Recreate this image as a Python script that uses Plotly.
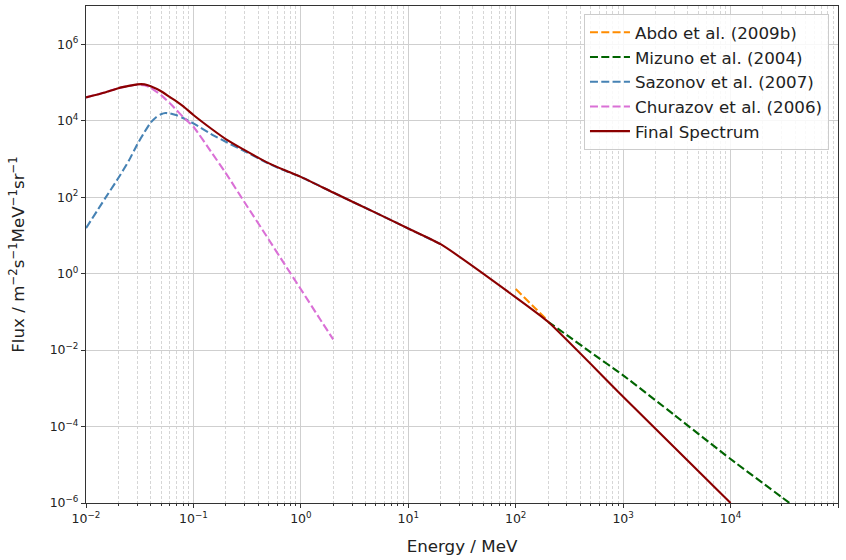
import plotly.graph_objects as go

# ---- data (log10 of flux) ----
abdo_E = [100, 150, 200]
abdo_logF = [-0.40, -0.89, -1.24]

mizuno_E = [200, 300, 500, 1000, 3000, 10000, 30000, 100000]
mizuno_logF = [-1.26, -1.61, -2.06, -2.66, -3.70, -4.85, -5.85, -6.95]

sazonov_E = [0.01, 0.015, 0.02, 0.025, 0.03, 0.035, 0.04, 0.045, 0.05, 0.055, 0.06,
             0.07, 0.08, 0.1, 0.15, 0.2, 0.3, 0.5, 0.7, 1.0, 2.0, 5.0, 10.0, 20.0]
sazonov_logF = [1.19, 1.96, 2.50, 2.95, 3.38, 3.70, 3.95, 4.09, 4.17, 4.20, 4.19,
                4.14, 4.07, 3.93, 3.63, 3.45, 3.20, 2.88, 2.70, 2.53, 2.12, 1.59, 1.18, 0.77]

churazov_E = [0.01, 0.015, 0.02, 0.025, 0.03, 0.035, 0.04, 0.05, 0.06, 0.07, 0.08,
              0.1, 0.15, 0.2, 0.3, 0.5, 0.7, 1.0, 1.5, 2.0]
churazov_logF = [4.61, 4.74, 4.85, 4.91, 4.94, 4.93, 4.86, 4.67, 4.46, 4.27, 4.10,
                 3.84, 3.14, 2.63, 1.86, 0.90, 0.26, -0.41, -1.18, -1.72]

final_E = [0.01, 0.015, 0.02, 0.025, 0.03, 0.035, 0.04, 0.05, 0.06, 0.07, 0.08,
           0.1, 0.15, 0.2, 0.3, 0.5, 0.7, 1.0, 2.0, 5.0, 10.0, 20.0, 100, 200, 1000, 10000]
final_logF = [4.61, 4.74, 4.85, 4.91, 4.95, 4.95, 4.90, 4.77, 4.62, 4.50, 4.38,
              4.15, 3.77, 3.52, 3.23, 2.89, 2.71, 2.53, 2.12, 1.59, 1.18, 0.77, -0.62, -1.26, -3.22, -6.0]

series = [
    ("Abdo et al. (2009b)", abdo_E, abdo_logF, "#FF8C00", "dash"),
    ("Mizuno et al. (2004)", mizuno_E, mizuno_logF, "#006400", "dash"),
    ("Sazonov et al. (2007)", sazonov_E, sazonov_logF, "#4682B4", "dash"),
    ("Churazov et al. (2006)", churazov_E, churazov_logF, "#DA70D6", "dash"),
    ("Final Spectrum", final_E, final_logF, "#8B0000", "solid"),
]

x_major = [-2, -1, 0, 1, 2, 3, 4, 5]
y_major = [-6, -4, -2, 0, 2, 4, 6]


def sup(n):
    s = str(n).replace("-", "\u2212")
    return "10<sup>" + s + "</sup>"


fig = go.Figure()
for name, E, lf, color, dash in series:
    fig.add_trace(go.Scatter(
        x=E, y=[10 ** v for v in lf], mode="lines", name=name,
        line=dict(color=color, width=2.1, dash=("8px,3.3px" if dash == "dash" else "solid"),
                  shape="spline", smoothing=0.5),
    ))

minor_x = [m * 10 ** d for d in range(-2, 5) for m in range(2, 10)]

fig.update_layout(
    width=846, height=560,
    margin=dict(l=86, r=8, t=6, b=57),
    plot_bgcolor="white", paper_bgcolor="white",
    font=dict(family="DejaVu Sans", color="#222222"),
    showlegend=True,
    legend=dict(
        x=0.988, y=0.984, xanchor="right", yanchor="top",
        bgcolor="rgba(255,255,255,0.85)", bordercolor="#cccccc", borderwidth=1,
        font=dict(size=16.7, color="#222222"),
        itemwidth=40,
    ),
)

fig.update_xaxes(
    type="log", range=[-2, 5],
    tickvals=[10 ** d for d in x_major], ticktext=[sup(d) for d in x_major],
    tickfont=dict(size=12.5, color="#222222"),
    ticks="outside", ticklen=4, tickcolor="#333333", tickwidth=1,
    showgrid=True, gridcolor="#cfcfcf", gridwidth=1.2,
    showline=True, linecolor="#333333", linewidth=1.1, mirror=True,
    minor=dict(tickvals=minor_x, ticks="outside", ticklen=2, tickcolor="#333333",
               showgrid=True, gridcolor="#d6d6d6", griddash="3px,2px", gridwidth=1),
    title=dict(text="Energy / MeV", font=dict(size=16.7, color="#222222"), standoff=15),
    zeroline=False,
)
fig.update_yaxes(
    type="log", range=[-6, 7],
    tickvals=[10 ** d for d in y_major], ticktext=[sup(d) for d in y_major],
    tickfont=dict(size=12.5, color="#222222"),
    ticks="outside", ticklen=4, tickcolor="#333333", tickwidth=1,
    showgrid=True, gridcolor="#cfcfcf", gridwidth=1.2,
    showline=True, linecolor="#333333", linewidth=1.1, mirror=True,
    title=dict(text="Flux / m<sup>\u22122</sup>s<sup>\u22121</sup>MeV<sup>\u22121</sup>sr<sup>\u22121</sup>",
               font=dict(size=16.7, color="#222222"), standoff=20),
    zeroline=False,
)

fig.write_html("out.html")
